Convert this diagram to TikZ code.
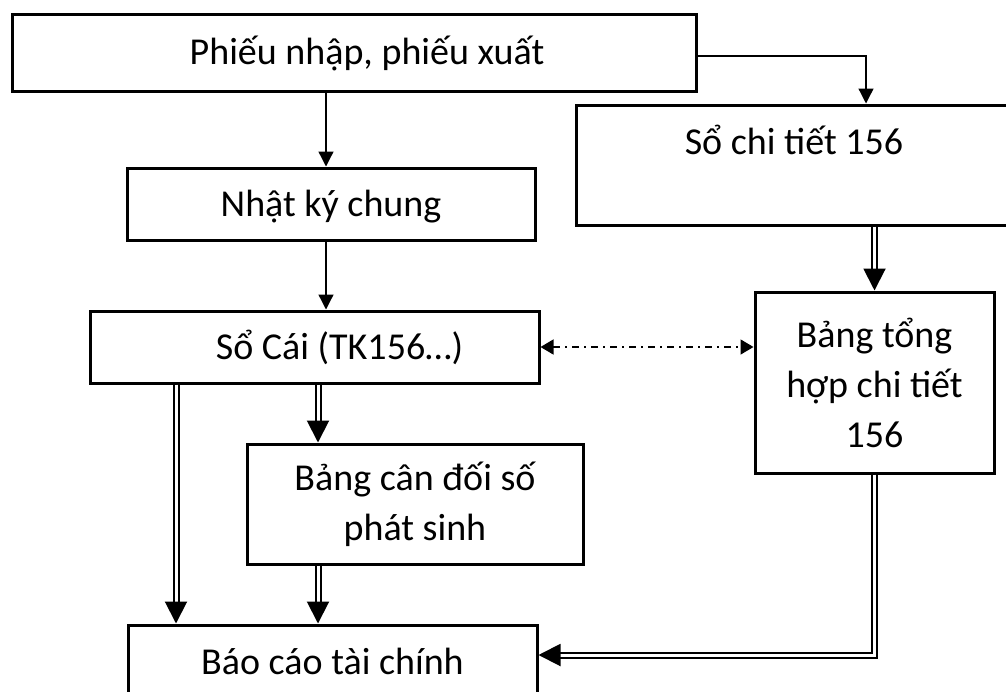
\documentclass[tikz,border=0pt]{standalone}
\usepackage{fontspec}
\setmainfont{Carlito}
\usepackage{tikz}
\usetikzlibrary{arrows.meta,positioning,calc}

\begin{document}
\begin{tikzpicture}[
  x=1pt, y=-1pt,
  box/.style={rectangle, draw=black, line width=3pt, align=center,
              font=\fontsize{38}{50}\selectfont, inner sep=0pt},
  one/.style={text height=30pt, text depth=6pt},
  arr/.style={draw=black, line width=1.3pt, -{Triangle[length=15pt,width=15pt]}},
  darr/.style={draw=black, line width=2pt, double, double distance=3pt,
               -{Triangle[length=22pt,width=22pt]}},
  dd/.style={draw=black, line width=1.5pt, dash pattern=on 7pt off 5pt on 2pt off 5pt,
             {Triangle[length=13pt,width=15pt]}-{Triangle[length=13pt,width=15pt]}}
]
  \useasboundingbox (0,0) rectangle (1006,691);
  \clip (0,0) rectangle (1006,691);

  % boxes
  \node[box, one, minimum width=684pt, minimum height=77pt]  (phieu) at (354,52.5) {\hspace*{26pt}Phiếu nhập, phiếu xuất};
  \node[box, minimum width=436pt, minimum height=120pt] (sct) at (794,165) {Sổ chi tiết 156\\\mbox{}};
  \node[box, one, minimum width=408pt, minimum height=72pt]  (nkc) at (331,204) {Nhật ký chung};
  \node[box, one, minimum width=449pt, minimum height=72pt]  (socai) at (314.5,347) {\hspace*{50pt}Sổ Cái (TK156…)};
  \node[box, minimum width=239pt, minimum height=181pt] (bth) at (874.5,382.5) {Bảng tổng\\hợp chi tiết\\156};
  \node[box, minimum width=336pt, minimum height=120pt] (bcd) at (415,504) {Bảng cân đối số\\phát sinh};
  \node[box, one, minimum width=409pt, minimum height=75pt]  (bctc) at (332.5,662.5) {Báo cáo tài chính};

  % lanes for the vertical connectors
  \coordinate (l1) at (326,0);
  \coordinate (l2) at (318,0);
  \coordinate (l3) at (176,0);

  % connectors
  \draw[arr] ([yshift=-3.5pt]phieu.east) -| ([xshift=72pt]sct.north);
  \draw[arr] (phieu.south -| l1) -- (nkc.north -| l1);
  \draw[arr] (nkc.south -| l1) -- (socai.north -| l1);
  \draw[darr] (bth.north |- sct.south) -- (bth.north);
  \draw[dd] (socai.east) -- (bth.west |- socai.east);
  \draw[darr] (socai.south -| l2) -- (bcd.north -| l2);
  \draw[darr] (socai.south -| l3) -- (bctc.north -| l3);
  \draw[darr] (bcd.south -| l2) -- (bctc.north -| l2);
  \draw[darr] (bth.south) |- ([yshift=7.5pt]bctc.east);
\end{tikzpicture}
\end{document}
